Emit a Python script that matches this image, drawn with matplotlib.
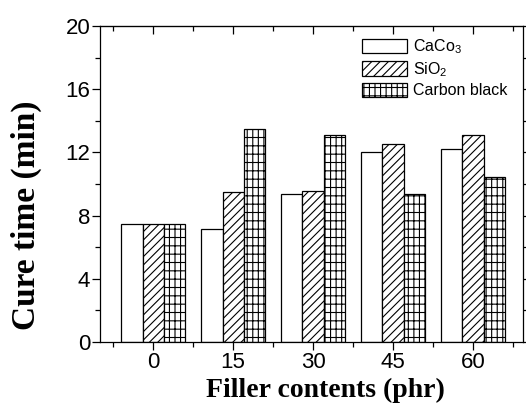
import numpy as np
import matplotlib
matplotlib.use('Agg')
import matplotlib.pyplot as plt
from matplotlib.ticker import MultipleLocator

filler = [0, 15, 30, 45, 60]
caco3 = [7.47, 7.17, 9.37, 12.04, 12.23]
sio2 = [7.47, 9.47, 9.54, 12.55, 13.12]
carbon = [7.47, 13.46, 13.12, 9.39, 10.46]
labels = ['CaCo$_3$', 'SiO$_2$', 'Carbon black']

plt.rcParams['font.family'] = 'Liberation Sans'
plt.rcParams['hatch.linewidth'] = 0.8
plt.rcParams['mathtext.fontset'] = 'custom'
plt.rcParams['mathtext.rm'] = 'Liberation Sans'

fig = plt.figure(figsize=(5.26, 4.07), dpi=100)
ax = fig.add_axes([100/526, 1-342/407, 423/526, 316/407])

x = np.array(filler)
w = 4
ax.bar(x - w, caco3, w, color='white', edgecolor='black', lw=0.9, label=labels[0])
ax.bar(x, sio2, w, color='white', edgecolor='black', lw=0.9, hatch='////', label=labels[1])
ax.bar(x + w, carbon, w, color='white', edgecolor='black', lw=0.9, hatch='++|', label=labels[2])

ax.set_xlim(-10, 69.4)
ax.set_ylim(0, 20)
ax.set_xticks(filler)
ax.xaxis.set_minor_locator(MultipleLocator(7.5))
ax.yaxis.set_major_locator(MultipleLocator(4))
ax.yaxis.set_minor_locator(MultipleLocator(2))
ax.tick_params(which='major', length=6, width=0.9, labelsize=16, direction='out',
               right=True, pad=1)
ax.tick_params(which='minor', length=3.5, width=0.9, direction='out', right=True)
for s in ax.spines.values():
    s.set_linewidth(0.9)

# top ticks point inward like the original
ax2 = ax.secondary_xaxis('top')
ax2.set_xticks(filler)
ax2.xaxis.set_minor_locator(MultipleLocator(7.5))
ax2.tick_params(which='major', direction='in', length=6, width=0.9, labeltop=False)
ax2.tick_params(which='minor', direction='in', length=3.5, width=0.9)
ax2.set_xticklabels([])

ax.set_xlabel('Filler contents (phr)', family='Liberation Serif', weight='bold',
              fontsize=20)
ax.xaxis.set_label_coords(0.532, -0.113, transform=ax.transAxes)
ax.xaxis.label.set_va('top')
ax.set_ylabel('Cure time (min)', family='Liberation Serif', weight='bold',
              fontsize=24)
ax.yaxis.set_label_coords(-0.175, 0.40, transform=ax.transAxes)
ax.yaxis.label.set_va('center')

ax.legend(loc='upper right', bbox_to_anchor=(0.985, 0.995), frameon=False,
          fontsize=11.5, handlelength=2.8, handleheight=1.0, handletextpad=0.35,
          labelspacing=0.25, borderaxespad=0.2)

fig.savefig('out.png', dpi=100)
